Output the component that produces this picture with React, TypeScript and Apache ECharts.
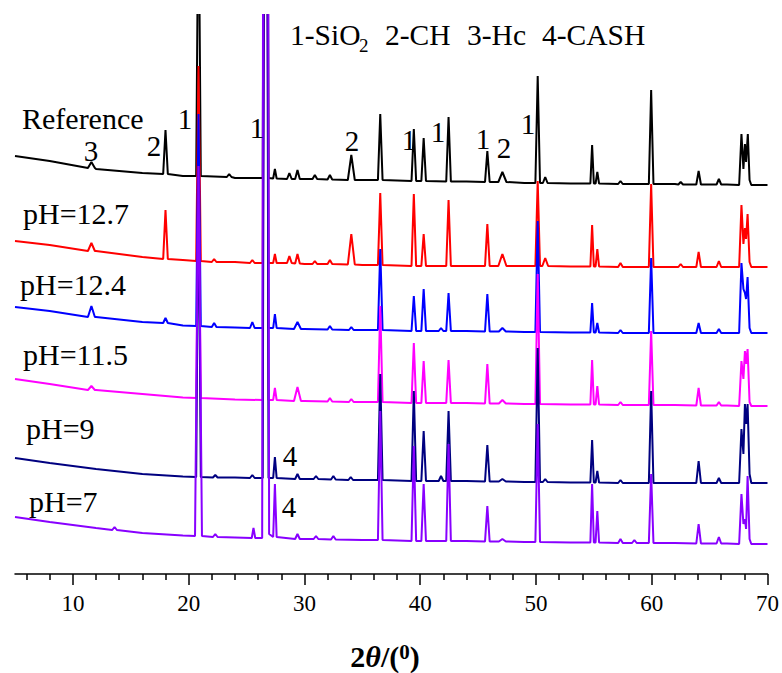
import React, { useEffect, useRef } from "react";
import * as echarts from "echarts";

// ---- data (2θ in degrees, intensity in a.u.) ----
const referenceBase = [[5,418],[8,413],[12,405],[16,401],[19.5,398],[24,396],[30,395],[35,394],[38,393.5],[44,392.5],[49,391],[53,390.5],[58,390],[62,390],[66.5,389.5],[67.55,389],[67.75,440],[67.92,405],[68.05,430],[68.15,412],[68.3,440],[68.45,394],[68.6,389],[70,389]];
// peaks: [2θ, base, top, half width]
const referencePeaks = [[11.6,406,412,0.3],[18.0,400,444,0.2],[20.85,398,700,0.2],[23.5,397,400,0.2],[26.65,396,1500,0.25],[27.45,395.5,405,0.15],[28.7,395,401,0.2],[29.4,395,404,0.2],[30.9,395,399,0.2],[32.2,394.5,399,0.2],[34.05,394,419,0.3],[36.55,394,460,0.2],[39.45,393,445,0.2],[40.3,393,436,0.2],[42.45,392.5,457,0.2],[45.8,392,423,0.2],[47.1,392,402,0.35],[50.15,391,498,0.2],[50.8,391,397,0.2],[54.85,390.5,429,0.15],[55.3,390.5,402,0.15],[57.3,390,393,0.2],[59.95,390,484,0.2],[62.5,389.5,392,0.2],[64.05,389.5,403,0.2],[65.8,389.5,395,0.2]];

const ph127Base = [[5,333],[8,329],[12,323],[16,317],[19.5,314],[24,312],[30,310],[35,309],[38,308.5],[44,308],[49,308],[53,307.5],[58,307],[62,307],[66.5,307],[67.55,307],[67.75,369],[67.92,330],[68.05,346],[68.15,335],[68.28,360],[68.45,312],[68.6,307],[70,307]];
const ph127Peaks = [[11.6,323,331,0.3],[18.0,315,364,0.2],[20.85,313,508,0.2],[22.2,312,315,0.2],[25.5,311,314,0.2],[26.65,311,1500,0.25],[27.45,311,320,0.15],[28.7,311,318,0.2],[29.4,310.5,320,0.2],[30.9,310,313,0.2],[32.2,310,314,0.2],[34.05,309.5,340,0.3],[36.55,309,381,0.2],[39.45,308,380,0.2],[40.3,308,340,0.2],[42.45,308,374,0.2],[45.8,308,350,0.2],[47.1,308,320,0.35],[50.15,308,393,0.2],[50.8,308,316,0.25],[54.85,307.5,349,0.15],[55.3,307.5,325,0.15],[57.3,307,311,0.2],[59.95,307,390,0.2],[62.5,307,310,0.2],[64.05,307,322,0.2],[65.8,307,313,0.2]];

const ph124Base = [[5,267],[8,263],[12,257],[16,252],[19.5,248.5],[24,246.5],[30,245],[35,244],[38,243.5],[44,243],[49,242],[53,241.5],[58,241],[62,241],[66.5,241],[67.55,241],[67.75,311],[67.92,285],[68.05,281],[68.15,275],[68.28,297],[68.45,246],[68.6,241],[70,241]];
const ph124Peaks = [[11.6,257,268,0.3],[18.0,251,256,0.2],[20.85,248,460,0.2],[22.2,247,251,0.2],[25.5,246,252,0.2],[26.65,246,1500,0.25],[27.45,246,260,0.15],[29.4,245,252,0.3],[32.2,244.5,248,0.2],[34.05,244,247,0.2],[36.55,244,325,0.2],[39.45,243,278,0.2],[40.3,243,285,0.2],[41.8,243,246,0.2],[42.45,243,281,0.2],[45.8,242.5,280,0.2],[47.1,242.5,246,0.3],[50.15,242,353,0.2],[54.85,241.5,271,0.15],[55.3,241.5,251,0.15],[57.3,241,244,0.2],[59.95,241,316,0.2],[64.05,241,251,0.2],[65.8,241,245,0.2]];

const ph115Base = [[5,195],[8,190],[12,184],[16,180],[19.5,176.5],[24,174.5],[30,173],[35,172],[38,171.5],[44,171],[49,170],[53,169.5],[58,169],[62,169],[66.5,168.5],[67.55,168],[67.75,213],[67.92,195],[68.05,223],[68.15,210],[68.28,225],[68.45,172],[68.6,168],[70,168]];
const ph115Peaks = [[11.6,184,188,0.3],[20.85,176,408,0.2],[26.65,174,1500,0.25],[27.45,174,186,0.15],[29.4,173,187,0.3],[32.2,172.5,176,0.2],[34.05,172,175,0.2],[36.55,172,268,0.2],[39.45,171,231,0.2],[40.3,171,213,0.2],[42.45,171,214,0.2],[45.8,170.5,210,0.2],[47.1,170.5,174,0.3],[50.15,170,300,0.2],[54.85,169.5,214,0.15],[55.3,169.5,188,0.15],[57.3,169,172,0.2],[59.95,169,243,0.2],[64.05,168.5,186,0.2],[65.8,168.5,172,0.2]];

const ph9Base = [[5,116],[8,111],[12,105],[16,100],[19.5,97.5],[24,96.5],[30,95],[35,94],[38,93.5],[44,93],[49,92],[53,91.5],[58,91],[62,91],[66.5,91],[67.55,91],[67.75,145],[67.92,120],[68.05,170],[68.15,150],[68.28,170],[68.45,100],[68.6,91],[70,91]];
const ph9Peaks = [[20.85,97,408,0.2],[22.3,96.5,99,0.2],[25.5,96,99,0.2],[26.65,96,1500,0.25],[27.45,96,117,0.15],[29.4,95,100,0.2],[31.0,95,98,0.2],[32.5,94.5,98,0.2],[34.0,94,97,0.2],[36.55,94,200,0.2],[39.45,93,183,0.2],[40.3,93,143,0.2],[41.8,93,98,0.2],[42.45,93,163,0.2],[45.8,92.5,129,0.2],[47.1,92.5,95,0.3],[50.15,92,226,0.2],[50.8,92,95,0.2],[54.85,91.5,134,0.15],[55.3,91.5,103,0.15],[57.3,91,94,0.2],[59.95,91,183,0.2],[64.05,91,113,0.2],[65.8,91,96,0.2]];

const ph7Base = [[5,57],[8,52],[12,46],[16,41],[19.5,38.5],[24,36.5],[26.35,36],[26.55,1500],[26.75,1500],[26.95,40],[30,35],[35,34],[38,33.5],[44,33],[49,32],[53,31.5],[58,31],[62,31],[66.5,30.5],[67.55,30],[67.75,80],[67.92,50],[68.05,55],[68.15,45],[68.28,98],[68.45,35],[68.6,30],[70,30]];
const ph7Peaks = [[13.6,44,47,0.2],[20.85,38,408,0.3],[22.3,37,40,0.2],[25.6,36,46,0.15],[27.45,37,90,0.15],[29.4,35,40,0.2],[31.0,35,38,0.2],[32.5,34.5,38,0.2],[36.55,34,163,0.2],[39.45,33,128,0.2],[40.3,33,90,0.2],[42.45,33,130,0.2],[45.8,32.5,68,0.2],[47.1,32.5,35,0.3],[50.15,32,150,0.2],[54.85,31.5,90,0.15],[55.3,31.5,63,0.15],[57.3,31,35,0.2],[58.5,31,34,0.2],[59.95,31,100,0.2],[64.05,30.5,50,0.2],[65.8,30.5,37,0.2]];

const seriesNames = ["Reference", "pH=12.7", "pH=12.4", "pH=11.5", "pH=9", "pH=7"];
const seriesColors = ["#000000", "#ff0000", "#0000ff", "#ff00ff", "#000080", "#8800ff"];
const majorTicks = [10, 20, 30, 40, 50, 60, 70];
const minorTicks = [6, 8, 12, 14, 16, 18, 22, 24, 26, 28, 32, 34, 36, 38, 42, 44, 46, 48, 52, 54, 56, 58, 62, 64, 66, 68];
const phaseLegend = ["1-SiO", "2-CH", "3-Hc", "4-CASH"];

function buildTrace(base: number[][], peaks: number[][]) {
  const pts: number[][] = base.map((p) => [p[0], p[1]]);
  for (const [pos, b, top, hw] of peaks) {
    pts.push([pos - hw, b], [pos, top], [pos + hw, b]);
  }
  pts.sort((a, b) => a[0] - b[0]);
  return pts;
}

const traces = [
  buildTrace(referenceBase, referencePeaks),
  buildTrace(ph127Base, ph127Peaks),
  buildTrace(ph124Base, ph124Peaks),
  buildTrace(ph115Base, ph115Peaks),
  buildTrace(ph9Base, ph9Peaks),
  buildTrace(ph7Base, ph7Peaks),
];

const FAMILY = "Liberation Serif, Times New Roman, serif";

function txt(text: string, x: number, y: number, size: number, align = "left") {
  return {
    type: "text",
    x,
    y,
    z: 100,
    style: {
      text,
      fontSize: size,
      fontFamily: FAMILY,
      fill: "#000",
      align,
      verticalAlign: "middle",
      textAlign: align,
      textVerticalAlign: "middle",
    },
  };
}

export default function App() {
  const ref = useRef<HTMLDivElement>(null);
  useEffect(() => {
    if (!ref.current) return;
    const chart = echarts.init(ref.current, null, { renderer: "svg" });
    const labelPos = [
      [22, 118], [23, 213], [20, 284], [23, 354], [26, 428], [29, 501],
    ];
    const annots: [string, number, number][] = [
      ["3", 91, 151], ["2", 154, 146], ["1", 185, 119], ["1", 257, 128],
      ["2", 352, 141], ["1", 409, 140], ["1", 438, 132], ["1", 483, 139],
      ["2", 504, 148], ["1", 528, 124], ["4", 290, 456], ["4", 289, 507],
    ];
    const legendX = [290, 385, 467, 542];
    const graphics: any[] = [];
    seriesNames.forEach((n, i) => graphics.push(txt(n, labelPos[i][0], labelPos[i][1], 30)));
    annots.forEach(([t, x, y]) => graphics.push(txt(t, x, y, 29, "center")));
    phaseLegend.forEach((t, i) => graphics.push(txt(t, legendX[i], 35, 29.5)));
    graphics.push(txt("2", 359, 45, 19));
    graphics.push({
      type: "text",
      x: 385,
      y: 656,
      z: 100,
      style: {
        text: "{a|2}{b|θ}{a|/(}{c|0}{a|)}",
        align: "center",
        verticalAlign: "middle",
        textAlign: "center",
        textVerticalAlign: "middle",
        fill: "#000",
        rich: {
          a: { fontSize: 30, fontWeight: "bold", fontFamily: FAMILY, lineHeight: 30, fill: "#000" },
          b: { fontSize: 30, fontWeight: "bold", fontStyle: "italic", fontFamily: FAMILY, lineHeight: 30, fill: "#000" },
          c: { fontSize: 21, fontWeight: "bold", fontFamily: FAMILY, lineHeight: 21, verticalAlign: "top", fill: "#000" },
        },
      },
    });

    chart.setOption({
      animation: false,
      grid: { left: 15, right: 13, top: 15, bottom: 99, containLabel: false },
      xAxis: [
        {
          type: "value",
          min: 5,
          max: 70,
          axisLine: { show: true, onZero: false, lineStyle: { color: "#000", width: 1.5 } },
          axisTick: { show: true, inside: false, length: 11, customValues: majorTicks, lineStyle: { color: "#000", width: 1.5 } },
          axisLabel: { show: true, customValues: majorTicks, margin: 18, fontSize: 23, fontFamily: FAMILY, color: "#000" },
          splitLine: { show: false },
        },
        {
          type: "value",
          min: 5,
          max: 70,
          position: "bottom",
          axisLine: { show: false, onZero: false },
          axisTick: { show: true, inside: false, length: 6, customValues: minorTicks, lineStyle: { color: "#000", width: 1.5 } },
          axisLabel: { show: false },
          splitLine: { show: false },
        },
      ],
      yAxis: { type: "value", min: 0, max: 559, show: false },
      series: traces.map((d, i) => ({
        type: "line",
        name: seriesNames[i],
        data: d,
        xAxisIndex: 0,
        showSymbol: false,
        symbol: "none",
        clip: true,
        lineStyle: { color: seriesColors[i], width: 2 },
        itemStyle: { color: seriesColors[i] },
      })),
      graphic: graphics,
    });
    return () => chart.dispose();
  }, []);
  return (
    <div
      ref={ref}
      style={{ position: "absolute", left: 0, top: 0, width: 782, height: 673, background: "#fff" }}
    />
  );
}
